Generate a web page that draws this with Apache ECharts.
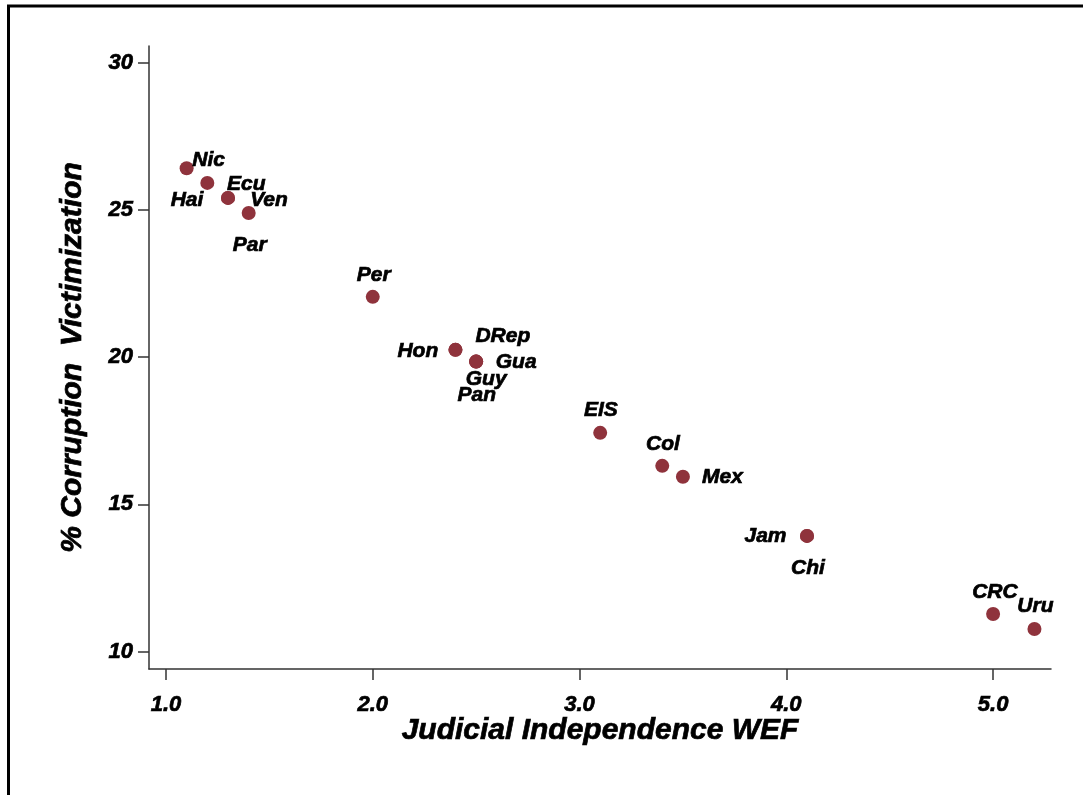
<!DOCTYPE html>
<html>
<head>
<meta charset="utf-8">
<script src="https://cdn.jsdelivr.net/npm/echarts@6/dist/echarts.min.js"></script>
<style>
html,body{margin:0;padding:0;background:#fff;}
#chart{width:1083px;height:795px;}
</style>
</head>
<body>
<div id="chart"></div>
<script>
// ---- data ----
var countries   = ['Nic', 'Ecu', 'Hai', 'Ven', 'Par', 'Per', 'Hon', 'DRep', 'Gua', 'Guy', 'Pan', 'EIS', 'Col', 'Mex', 'Jam', 'Chi', 'CRC', 'Uru'];
var judicialWEF = [1.1, 1.2, 1.3, 1.3, 1.4, 2.0, 2.4, 2.4, 2.5, 2.5, 2.5, 3.1, 3.4, 3.5, 4.1, 4.1, 5.0, 5.2];
var corruption  = [26.42, 25.92, 25.41, 25.41, 24.9, 22.05, 20.25, 20.25, 19.85, 19.85, 19.85, 17.43, 16.31, 15.94, 13.93, 13.93, 11.28, 10.77];
var xTicks = [1, 2, 3, 4, 5];
var yTicks = [10, 15, 20, 25, 30];

// ---- label placement (style) ----
var labelOffsets = [[22,-7.5],[39,1.5],[-41,2.5],[41,2],[1,32],[1,-21.5],[-37.6,1.2],[47.4,-14],[40,1],[10,18],[0.6,33.2],[0.7,-22.8],[0.7,-21.5],[39.5,0.5],[-41.5,0.5],[1,32.2],[1.8,-22],[1,-23]];

var FONT = 'Liberation Sans, Arial, Helvetica, sans-serif';
function txt(size) {
  return { fontFamily: FONT, fontWeight: 'bold', fontStyle: 'italic', fontSize: size, color: '#000',
           textBorderColor: '#000', textBorderWidth: 0.7 };
}

var points = countries.map(function (c, i) {
  return {
    name: c,
    value: [judicialWEF[i], corruption[i]],
    label: { offset: labelOffsets[i] }
  };
});

var chart = echarts.init(document.getElementById('chart'), null, { renderer: 'canvas' });
chart.setOption({
  backgroundColor: '#fff',
  animation: false,
  graphic: [{
    type: 'rect',
    shape: { x: 8.5, y: 6, width: 1300, height: 1000 },
    style: { fill: 'none', stroke: '#000', lineWidth: 3 },
    z: 100
  }],
  grid: { left: 149, top: 46, right: 32, bottom: 126, containLabel: false },
  xAxis: {
    type: 'value',
    min: 0.918,
    max: 5.28,
    name: 'Judicial Independence WEF',
    nameLocation: 'middle',
    nameMoveOverlap: false,
    nameGap: 47,
    nameTextStyle: txt(30),
    splitLine: { show: false },
    axisLine: { show: true, onZero: false, lineStyle: { color: '#333', width: 1.5 } },
    axisTick: { show: true, length: 11, customValues: xTicks, lineStyle: { color: '#333', width: 1.5 } },
    axisLabel: Object.assign({
      customValues: xTicks,
      margin: 25,
      formatter: function (v) { return v.toFixed(1); }
    }, txt(22))
  },
  yAxis: {
    type: 'value',
    min: 9.41,
    max: 30.57,
    name: '% Corruption  Victimization',
    nameLocation: 'middle',
    nameMoveOverlap: false,
    nameRotate: 90,
    nameGap: 61,
    nameTextStyle: txt(30),
    splitLine: { show: false },
    axisLine: { show: true, onZero: false, lineStyle: { color: '#333', width: 1.5 } },
    axisTick: { show: true, length: 11, customValues: yTicks, lineStyle: { color: '#333', width: 1.5 } },
    axisLabel: Object.assign({
      customValues: yTicks,
      margin: 16
    }, txt(22))
  },
  series: [{
    type: 'scatter',
    symbol: 'circle',
    symbolSize: 14,
    itemStyle: { color: '#8f333c', opacity: 1 },
    label: Object.assign({
      show: true,
      position: 'inside',
      align: 'center',
      verticalAlign: 'middle',
      formatter: '{b}'
    }, txt(21)),
    emphasis: { disabled: true },
    data: points
  }]
});
</script>
</body>
</html>
